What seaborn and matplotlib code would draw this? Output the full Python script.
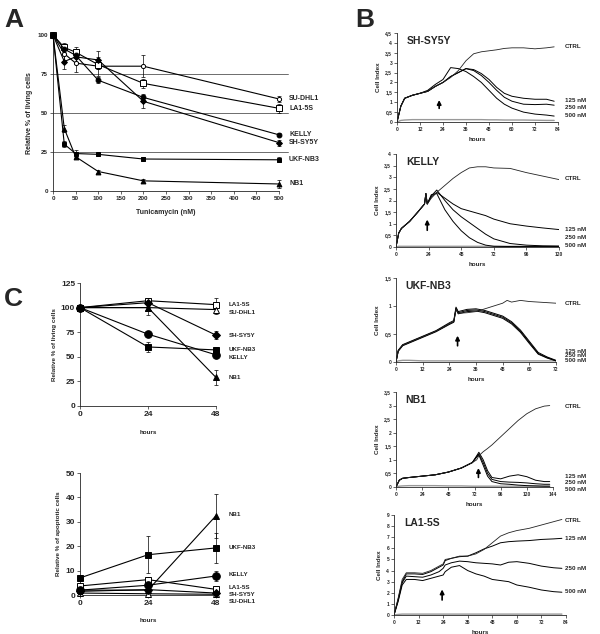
import numpy as np
import pandas as pd
import seaborn as sns
import matplotlib.pyplot as plt
import matplotlib.transforms as mtrans
from matplotlib.ticker import FuncFormatter

sns.set_style('ticks')
plt.rcParams['font.family'] = ['Liberation Sans', 'DejaVu Sans']
plt.rcParams['font.weight'] = 'bold'

# ---------------- Panel A: tunicamycin dose response (% living cells)
dose = [0, 25, 50, 100, 200, 500]
a_names = ['SU-DHL1', 'LA1-5S', 'KELLY', 'SH-SY5Y', 'UKF-NB3', 'NB1']
a_sudhl1 = [100, 88, 82, 80, 80, 59]
a_la15s = [100, 92, 89, 81, 69, 53]
a_kelly = [100, 91, 87, 71, 60, 36]
a_shsy5y = [100, 83, 86, 84, 57.5, 31]
a_ukfnb3 = [100, 30, 24, 23.5, 20.5, 20]
a_nb1 = [100, 40, 22, 12.5, 6.5, 4.5]
a_sudhl1_err = [0, 6, 6, 6, 7, 2]
a_la15s_err = [0, 3, 3, 3, 3, 3]
a_kelly_err = [0, 3, 2, 2, 2, 1]
a_shsy5y_err = [0, 5, 3, 6, 4, 2]
a_ukfnb3_err = [0, 2, 2, 1, 1.5, 1.5]
a_nb1_err = [0, 2, 1, 1, 1.5, 2.5]
a_label_y = [59, 53, 36, 31, 20, 4.5]

# ---------------- Panel C: time course (living / apoptotic cells)
c_hours = [0, 24, 48]
c_names = ['LA1-5S', 'SU-DHL1', 'SH-SY5Y', 'UKF-NB3', 'KELLY', 'NB1']
c_live_la15s = [100, 107, 103]
c_live_sudhl1 = [100, 100, 98]
c_live_shsy5y = [100, 105, 72]
c_live_ukfnb3 = [100, 60, 57]
c_live_kelly = [100, 73, 52]
c_live_nb1 = [100, 100, 29]
c_live_la15s_err = [0, 3, 7]
c_live_sudhl1_err = [0, 8, 4]
c_live_shsy5y_err = [0, 3, 4]
c_live_ukfnb3_err = [0, 5, 3]
c_live_kelly_err = [0, 3, 3]
c_live_nb1_err = [0, 3, 8]
c_live_label_y = [103, 95, 72, 57, 49, 29]

c_apo_la15s = [3.7, 6.3, 2.3]
c_apo_sudhl1 = [0.8, 0.5, 0.3]
c_apo_shsy5y = [1.5, 2.2, 0.8]
c_apo_ukfnb3 = [7, 16.5, 19.3]
c_apo_kelly = [2, 4, 7.8]
c_apo_nb1 = [2, 2, 32.5]
c_apo_la15s_err = [0.5, 1, 0.5]
c_apo_sudhl1_err = [0.2, 0.2, 0.2]
c_apo_shsy5y_err = [0.3, 0.5, 0.3]
c_apo_ukfnb3_err = [1, 7.5, 6]
c_apo_kelly_err = [0.5, 1, 2]
c_apo_nb1_err = [0.5, 0.5, 9]
c_apo_label_y = [2.9, -2.5, 0.3, 19.5, 8.5, 33]

# ---------------- Panel B: real-time cell index curves
sh_hours = [0, 2, 4, 8, 12, 16, 20, 24, 28, 32, 36, 40, 44, 48, 52, 56, 60, 66, 72, 78, 82]
sh_ctrl = [0, 0.8, 1.2, 1.35, 1.45, 1.55, 1.8, 2.0, 2.25, 2.6, 3.1, 3.45, 3.55, 3.6, 3.65, 3.72, 3.75, 3.75, 3.7, 3.75, 3.8]
sh_125 = [0, 0.8, 1.2, 1.35, 1.45, 1.55, 1.8, 2.0, 2.3, 2.5, 2.7, 2.65, 2.45, 2.15, 1.75, 1.45, 1.3, 1.2, 1.15, 1.15, 1.05]
sh_250 = [0, 0.8, 1.2, 1.35, 1.45, 1.55, 1.8, 2.0, 2.3, 2.5, 2.7, 2.6, 2.35, 2.0, 1.6, 1.25, 1.05, 0.9, 0.88, 0.9, 0.85]
sh_500 = [0, 0.8, 1.2, 1.35, 1.45, 1.6, 1.9, 2.15, 2.75, 2.7, 2.55, 2.3, 2.0, 1.6, 1.2, 0.9, 0.7, 0.5, 0.4, 0.35, 0.3]
sh_bg = [0, 0.08, 0.1, 0.12, 0.12, 0.12, 0.12, 0.12, 0.12, 0.12, 0.12, 0.12, 0.12, 0.11, 0.11, 0.1, 0.1, 0.1, 0.09, 0.08, 0.08]

ke_hours = [0, 2, 4, 10, 16, 21, 22, 23, 26, 30, 36, 42, 48, 54, 60, 66, 72, 84, 96, 108, 120]
ke_ctrl = [0, 0.6, 0.8, 1.1, 1.5, 1.85, 2.3, 1.85, 2.1, 2.35, 2.65, 2.95, 3.2, 3.4, 3.45, 3.45, 3.4, 3.38, 3.2, 3.05, 2.9]
ke_125 = [0, 0.6, 0.8, 1.1, 1.5, 1.85, 2.3, 1.85, 2.15, 2.35, 2.1, 1.85, 1.65, 1.55, 1.45, 1.35, 1.2, 1.0, 0.9, 0.82, 0.75]
ke_250 = [0, 0.6, 0.8, 1.1, 1.5, 1.85, 2.3, 1.85, 2.2, 2.45, 2.0, 1.6, 1.3, 1.05, 0.8, 0.55, 0.35, 0.15, 0.08, 0.05, 0.04]
ke_500 = [0, 0.6, 0.8, 1.1, 1.5, 1.85, 2.3, 1.85, 2.25, 2.3, 1.6, 1.1, 0.7, 0.4, 0.2, 0.08, 0.03, 0.02, 0.02, 0.02, 0.02]
ke_bg = [0, 0.03, 0.03, 0.03, 0.03, 0.03, 0.03, 0.03, 0.03, 0.03, 0.03, 0.03, 0.03, 0.03, 0.03, 0.03, 0.03, 0.03, 0.03, 0.03, 0.03]

uk_hours = [0, 1, 3, 6, 12, 18, 24, 26, 27, 28, 32, 36, 40, 44, 48, 50, 52, 56, 60, 64, 68, 72]
uk_ctrl = [0, 0.2, 0.3, 0.35, 0.45, 0.55, 0.68, 0.72, 0.95, 0.87, 0.88, 0.9, 0.95, 1.0, 1.05, 1.1, 1.07, 1.1, 1.08, 1.07, 1.06, 1.05]
uk_125 = [0, 0.21, 0.31, 0.36, 0.46, 0.56, 0.7, 0.74, 0.98, 0.9, 0.94, 0.95, 0.92, 0.87, 0.82, 0.77, 0.72, 0.57, 0.37, 0.17, 0.09, 0.03]
uk_250 = [0, 0.2, 0.3, 0.35, 0.45, 0.55, 0.68, 0.72, 0.96, 0.88, 0.92, 0.93, 0.9, 0.85, 0.8, 0.75, 0.7, 0.55, 0.35, 0.15, 0.08, 0.02]
uk_500 = [0, 0.19, 0.29, 0.34, 0.44, 0.54, 0.67, 0.71, 0.94, 0.86, 0.9, 0.91, 0.88, 0.83, 0.78, 0.73, 0.68, 0.53, 0.33, 0.14, 0.07, 0.02]
uk_bg = [0, 0.02, 0.03, 0.03, 0.02, 0.02, 0.02, 0.02, 0.02, 0.02, 0.02, 0.02, 0.02, 0.02, 0.02, 0.02, 0.02, 0.02, 0.02, 0.02, 0.02, 0.02]

nb_hours = [0, 3, 6, 12, 24, 36, 48, 60, 70, 74, 76, 80, 84, 88, 96, 104, 112, 120, 128, 136, 141]
nb_ctrl = [0, 0.25, 0.32, 0.35, 0.4, 0.45, 0.55, 0.7, 0.9, 1.0, 1.15, 1.3, 1.42, 1.55, 1.85, 2.15, 2.45, 2.7, 2.88, 2.98, 3.0]
nb_125 = [0, 0.25, 0.32, 0.35, 0.4, 0.45, 0.55, 0.7, 0.9, 1.15, 1.28, 1.0, 0.6, 0.35, 0.3, 0.4, 0.45, 0.38, 0.25, 0.2, 0.2]
nb_250 = [0, 0.25, 0.32, 0.35, 0.4, 0.45, 0.55, 0.7, 0.9, 1.12, 1.22, 0.9, 0.5, 0.28, 0.2, 0.18, 0.17, 0.15, 0.12, 0.1, 0.1]
nb_500 = [0, 0.25, 0.32, 0.35, 0.4, 0.45, 0.55, 0.7, 0.9, 1.1, 1.18, 0.8, 0.4, 0.2, 0.12, 0.1, 0.07, 0.05, 0.04, 0.03, 0.03]
nb_bg = [0, 0.03, 0.04, 0.05, 0.05, 0.05, 0.04, 0.04, 0.03, 0.03, 0.03, 0.03, 0.03, 0.03, 0.03, 0.03, 0.03, 0.03, 0.03, 0.03, 0.03]

la_hours = [0, 2, 4, 6, 10, 14, 18, 22, 24, 25, 28, 32, 36, 40, 44, 48, 52, 56, 60, 66, 72, 78, 82]
la_ctrl = [0, 1.5, 3.2, 3.8, 3.8, 3.75, 4.0, 4.4, 4.6, 5.0, 5.1, 5.3, 5.3, 5.5, 5.9, 6.5, 7.1, 7.4, 7.6, 7.8, 8.1, 8.4, 8.6]
la_125 = [0, 1.4, 3.0, 3.7, 3.7, 3.65, 3.9, 4.3, 4.5, 4.9, 5.1, 5.25, 5.3, 5.6, 5.95, 6.2, 6.5, 6.6, 6.65, 6.7, 6.8, 6.85, 6.9]
la_250 = [0, 1.3, 2.9, 3.5, 3.45, 3.4, 3.6, 3.9, 4.2, 4.5, 4.7, 4.85, 4.8, 4.7, 4.65, 4.6, 4.5, 4.75, 4.8, 4.65, 4.4, 4.25, 4.2]
la_500 = [0, 1.2, 2.7, 3.2, 3.2, 3.1, 3.3, 3.5, 3.6, 3.9, 4.3, 4.45, 4.0, 3.7, 3.5, 3.2, 3.1, 3.0, 2.7, 2.5, 2.25, 2.1, 2.05]
la_bg = [0, 0.05, 0.08, 0.08, 0.08, 0.08, 0.08, 0.08, 0.08, 0.08, 0.08, 0.08, 0.08, 0.08, 0.08, 0.08, 0.08, 0.08, 0.08, 0.08, 0.08, 0.08, 0.08]

W, H = 600, 634
fig = plt.figure(figsize=(6, 6.34), dpi=100)


def box(x0, y0, x1, y1):
    return [x0 / W, 1 - y1 / H, (x1 - x0) / W, (y1 - y0) / H]


def style(ax, fs):
    sns.despine(ax=ax)
    for s in ['left', 'bottom']:
        ax.spines[s].set_linewidth(0.6)
    ax.tick_params(direction='out', length=2, width=0.5, labelsize=fs, pad=1.5)
    for lab in ax.get_xticklabels() + ax.get_yticklabels():
        lab.set_fontweight('bold')


def comma(v, pos):
    return ('%g' % v).replace('.', ',')


def side_labels(ax, xpix, names, ys, fs):
    tr = mtrans.blended_transform_factory(fig.transFigure, ax.transData)
    for n, y in zip(names, ys):
        ax.text(xpix / W, y, n, transform=tr, fontsize=fs, fontweight='bold',
                va='center', ha='left', clip_on=False)


def dots(ax, x, y, err, marker, filled, ms, label):
    df = pd.DataFrame({'x': x, 'y': y})
    sns.lineplot(data=df, x='x', y='y', ax=ax, color='black', lw=0.8,
                 marker=marker, markersize=ms, markeredgecolor='black',
                 markerfacecolor='black' if filled else 'white',
                 markeredgewidth=0.7, clip_on=False, label=label, legend=False,
                 zorder=3)
    ax.errorbar(x, y, yerr=err, fmt='none', ecolor='black', elinewidth=0.5,
                capsize=1.5, capthick=0.5, clip_on=False, zorder=2)


# ---------------- Panel A
axA = fig.add_axes(box(53, 35, 279, 191))
a_vals = [a_sudhl1, a_la15s, a_kelly, a_shsy5y, a_ukfnb3, a_nb1]
a_errs = [a_sudhl1_err, a_la15s_err, a_kelly_err, a_shsy5y_err, a_ukfnb3_err, a_nb1_err]
a_marks = [('o', False, 3), ('s', False, 4), ('o', True, 3.5), ('D', True, 3), ('s', True, 3.5), ('^', True, 3.5)]
for lvl in [25, 50, 75]:
    axA.plot([0, 520], [lvl, lvl], color='#555555', lw=0.6, clip_on=False, zorder=1)
for n, v, e, (m, f, ms) in zip(a_names, a_vals, a_errs, a_marks):
    dots(axA, dose, v, e, m, f, ms, n)
axA.set_xlim(0, 500)
axA.set_ylim(0, 100)
axA.set_xticks(range(0, 501, 50))
axA.set_yticks([0, 25, 50, 75, 100])
axA.set_xlabel('Tunicamycin (nM)', fontsize=5, fontweight='bold', labelpad=6)
axA.set_ylabel('Relative % of living cells', fontsize=5, fontweight='bold', labelpad=3)
style(axA, 4.5)
side_labels(axA, 289, a_names, a_label_y, 5)


# ---------------- Panel B
def rt_panel(rect, hours, curves, ymax, ystep, xmax, xstep, title, label_y, arrow):
    ax = fig.add_axes(box(*rect))
    ctrl, c125, c250, c500, bg = curves
    sns.lineplot(x=hours, y=bg, ax=ax, color='#999999', lw=1.0)
    for c in (c125, c250, c500):
        sns.lineplot(x=hours, y=c, ax=ax, color='black', lw=0.7)
    sns.lineplot(x=hours, y=ctrl, ax=ax, color='#222222', lw=0.6)
    ax.set_xlim(0, xmax)
    ax.set_ylim(0, ymax)
    ax.set_xticks(np.arange(0, xmax + 0.1, xstep))
    ax.set_yticks(np.arange(0, ymax + 0.01, ystep))
    ax.yaxis.set_major_formatter(FuncFormatter(comma))
    ax.set_xlabel('hours', fontsize=4.5, fontweight='bold', labelpad=4)
    ax.set_ylabel('Cell Index', fontsize=4.5, fontweight='bold', labelpad=3)
    style(ax, 3.5)
    ax.text(0.06, 0.97, title, transform=ax.transAxes, fontsize=7.5,
            fontweight='bold', va='top', ha='left')
    ax.annotate('', xy=(arrow[0], arrow[2]), xytext=(arrow[0], arrow[1]),
                arrowprops=dict(arrowstyle='-|>', color='black', lw=1.2,
                                mutation_scale=6))
    side_labels(ax, 565, ['CTRL', '125 nM', '250 nM', '500 nM'], label_y, 4.5)
    return ax


rt_panel((397, 33, 558, 122), sh_hours, (sh_ctrl, sh_125, sh_250, sh_500, sh_bg),
         4.5, 0.5, 84, 12, 'SH-SY5Y', [3.8, 1.1, 0.72, 0.32], (22, 0.55, 1.25))
rt_panel((396, 154, 559, 247), ke_hours, (ke_ctrl, ke_125, ke_250, ke_500, ke_bg),
         4, 0.5, 120, 24, 'KELLY', [2.95, 0.75, 0.4, 0.05], (23, 0.6, 1.3))
rt_panel((396, 278, 556, 362), uk_hours, (uk_ctrl, uk_125, uk_250, uk_500, uk_bg),
         1.5, 0.5, 72, 12, 'UKF-NB3', [1.05, 0.19, 0.11, 0.02], (27.7, 0.24, 0.52))
rt_panel((396, 392, 553, 487), nb_hours, (nb_ctrl, nb_125, nb_250, nb_500, nb_bg),
         3.5, 0.5, 144, 24, 'NB1', [2.98, 0.39, 0.18, -0.1], (75.6, 0.25, 0.8))
rt_panel((394, 515, 566, 615), la_hours, (la_ctrl, la_125, la_250, la_500, la_bg),
         9, 1, 84, 12, 'LA1-5S', [8.55, 6.9, 4.2, 2.1], (23.5, 1.1, 2.55))

# ---------------- Panel C
c_marks = [('s', False, 5), ('^', False, 5), ('D', True, 4.5), ('s', True, 5), ('o', True, 5.5), ('^', True, 5)]

axC1 = fig.add_axes(box(80, 283, 216, 406))
c_live = [c_live_la15s, c_live_sudhl1, c_live_shsy5y, c_live_ukfnb3, c_live_kelly, c_live_nb1]
c_live_err = [c_live_la15s_err, c_live_sudhl1_err, c_live_shsy5y_err, c_live_ukfnb3_err, c_live_kelly_err, c_live_nb1_err]
for n, v, e, (m, f, ms) in zip(c_names, c_live, c_live_err, c_marks):
    dots(axC1, c_hours, v, e, m, f, ms, n)
axC1.set_xlim(0, 48)
axC1.set_ylim(0, 125)
axC1.set_xticks(c_hours)
axC1.set_yticks([0, 25, 50, 75, 100, 125])
axC1.set_xlabel('hours', fontsize=4.5, fontweight='bold', labelpad=9)
axC1.set_ylabel('Relative % of living cells', fontsize=4.5, fontweight='bold', labelpad=3)
style(axC1, 6)
side_labels(axC1, 229, c_names, c_live_label_y, 4.5)

axC2 = fig.add_axes(box(80, 473, 216, 595))
c_apo = [c_apo_la15s, c_apo_sudhl1, c_apo_shsy5y, c_apo_ukfnb3, c_apo_kelly, c_apo_nb1]
c_apo_err = [c_apo_la15s_err, c_apo_sudhl1_err, c_apo_shsy5y_err, c_apo_ukfnb3_err, c_apo_kelly_err, c_apo_nb1_err]
for n, v, e, (m, f, ms) in zip(c_names, c_apo, c_apo_err, c_marks):
    dots(axC2, c_hours, v, e, m, f, ms, n)
axC2.set_xlim(0, 48)
axC2.set_ylim(0, 50)
axC2.set_xticks(c_hours)
axC2.set_yticks([0, 10, 20, 30, 40, 50])
axC2.set_xlabel('hours', fontsize=4.5, fontweight='bold', labelpad=8)
axC2.set_ylabel('Relative % of apoptotic cells', fontsize=4.5, fontweight='bold', labelpad=3)
style(axC2, 6)
side_labels(axC2, 229, c_names, c_apo_label_y, 4.5)

# panel letters
for letter, xp, yp in [('A', 4, 8), ('B', 355, 8), ('C', 4, 287)]:
    fig.text(xp / W, 1 - yp / H, letter, fontsize=19, fontweight='bold',
             va='top', ha='left')

fig.savefig('out.png', dpi=100)
